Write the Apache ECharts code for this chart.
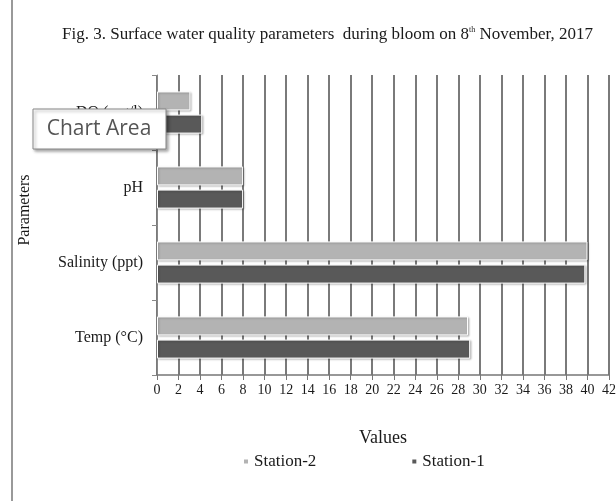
<!DOCTYPE html>
<html>
<head>
<meta charset="utf-8">
<script src="https://cdn.jsdelivr.net/npm/echarts@6/dist/echarts.min.js"></script>
<style>html,body{margin:0;padding:0;background:#fff}#c{width:616px;height:501px}</style>
</head>
<body>
<div id="c"></div>
<script>
const categories = ['Temp (°C)', 'Salinity (ppt)', 'pH', 'DO (mg/l)'];
const station1 = [29.1, 39.8, 8.0, 4.2];
const station2 = [28.9, 40.0, 8.0, 3.1];
const seriesNames = ['Station-2', 'Station-1'];
const xTicks = {min: 0, max: 42, interval: 2};

const serif = 'Liberation Serif';
const chart = echarts.init(document.getElementById('c'));
const barStyle = (color) => ({
  color: color,
  borderColor: '#ffffff',
  borderWidth: 1,
  shadowColor: 'rgba(0,0,0,0.25)',
  shadowBlur: 2,
  shadowOffsetX: 1,
  shadowOffsetY: 1
});
chart.setOption({
  animation: false,
  backgroundColor: '#ffffff',
  title: {
    text: '{a|Fig. 3. Surface water quality parameters  during bloom on 8}{s|th}{a| November, 2017}',
    left: 57, top: 21,
    textStyle: {
      fontWeight: 'normal',
      rich: {
        a: {fontFamily: serif, fontSize: 17, fontWeight: 'normal', color: '#1a1a1a'},
        s: {fontFamily: serif, fontSize: 8, fontWeight: 'normal', color: '#1a1a1a', verticalAlign: 'top', padding: [0,0,8,0]}
      }
    }
  },
  grid: {left: 157, right: 7, top: 75, bottom: 126, containLabel: false, outerBoundsMode: 'none'},
  legend: {
    data: seriesNames,
    top: 448, left: 237,
    itemWidth: 6, itemHeight: 6, itemGap: 94,
    icon: 'rect',
    textStyle: {fontFamily: serif, fontSize: 17, color: '#1a1a1a'}
  },
  xAxis: {
    type: 'value',
    min: xTicks.min, max: xTicks.max, interval: xTicks.interval,
    name: 'Values', nameLocation: 'middle', nameGap: 54,
    nameTextStyle: {fontFamily: serif, fontSize: 18, color: '#1a1a1a'},
    axisLine: {show: true, lineStyle: {color: '#777', width: 1.5}},
    axisTick: {show: true, length: 5, lineStyle: {color: '#777'}},
    axisLabel: {fontFamily: serif, fontSize: 14, color: '#1a1a1a', margin: 8},
    splitLine: {show: true, lineStyle: {color: '#7a7a7a', width: 2}}
  },
  yAxis: {
    type: 'category',
    data: categories,
    name: 'Parameters', nameLocation: 'middle', nameGap: 124, nameRotate: 90,
    nameTextStyle: {fontFamily: serif, fontSize: 16, color: '#1a1a1a', padding: [0,0,0,30]},
    axisLine: {show: true, lineStyle: {color: '#888', width: 1}},
    axisTick: {show: true, length: 5, lineStyle: {color: '#888'}},
    axisLabel: {fontFamily: serif, fontSize: 16, color: '#1a1a1a', margin: 14}
  },
  series: [
    {name: 'Station-2', type: 'bar', data: station2, barWidth: 19, barGap: '22%', itemStyle: barStyle('#b3b3b3')},
    {name: 'Station-1', type: 'bar', data: station1, barWidth: 19, barGap: '22%', itemStyle: barStyle('#595959')}
  ],
  graphic: [
    {type: 'line', shape: {x1: 12, y1: 0, x2: 12, y2: 501}, style: {stroke: '#999', lineWidth: 2}},
    {type: 'rect', shape: {x: 33, y: 109, width: 133, height: 40}, style: {fill: '#fff', stroke: '#888', lineWidth: 1, shadowColor: 'rgba(0,0,0,0.35)', shadowBlur: 3, shadowOffsetX: 2, shadowOffsetY: 2}, z: 100},
    {type: 'text', x: 99, y: 129, style: {text: 'Chart Area', font: '21px "Open Sans"', fill: '#555', align: 'center', verticalAlign: 'middle'}, z: 101}
  ]
});
</script>
</body>
</html>
